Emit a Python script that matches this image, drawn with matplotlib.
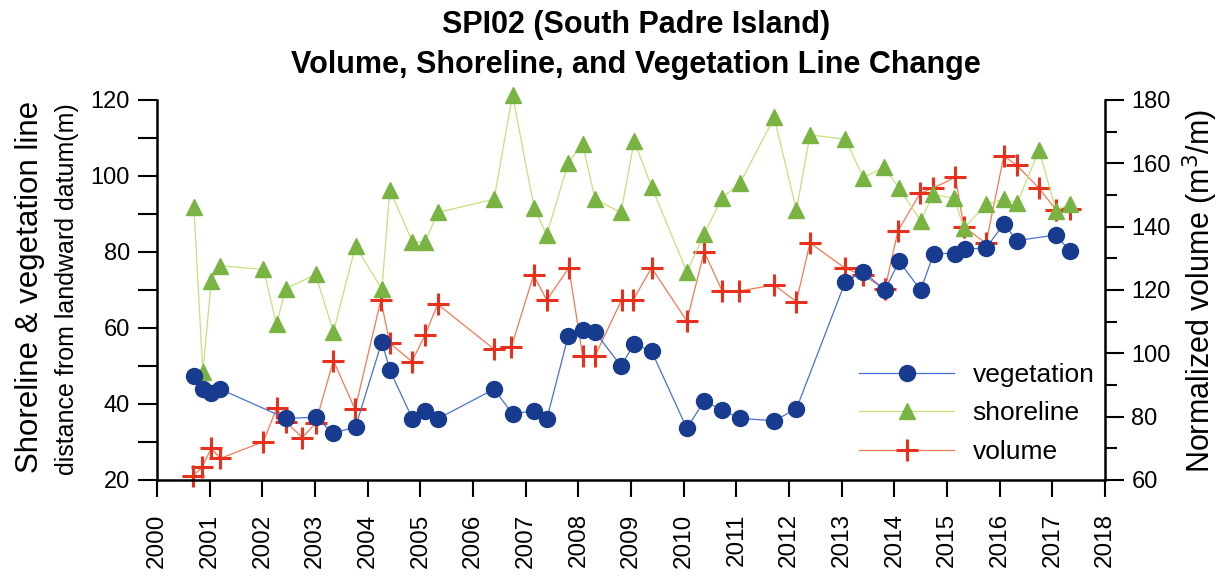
import matplotlib.pyplot as plt
from matplotlib.ticker import MultipleLocator

# vegetation line position (m), left axis
veg_year = [2000.70, 2000.87, 2001.03, 2001.20, 2002.45, 2003.01, 2003.35, 2003.77,
            2004.27, 2004.42, 2004.85, 2005.09, 2005.33, 2006.40, 2006.75, 2007.16,
            2007.40, 2007.81, 2008.08, 2008.32, 2008.81, 2009.06, 2009.39, 2010.06,
            2010.39, 2010.73, 2011.07, 2011.72, 2012.14, 2013.07, 2013.41, 2013.82,
            2014.09, 2014.50, 2014.75, 2015.16, 2015.34, 2015.74, 2016.08, 2016.33,
            2017.07, 2017.33]
veg_val = [47.4, 43.9, 42.9, 43.9, 36.2, 36.5, 32.3, 34.0,
           56.4, 48.9, 36.1, 38.2, 36.1, 43.9, 37.4, 38.2,
           36.0, 58.0, 59.5, 58.9, 50.0, 55.8, 53.9, 33.6,
           40.8, 38.4, 36.2, 35.6, 38.7, 72.2, 74.8, 70.0,
           77.5, 70.0, 79.6, 79.6, 80.8, 81.0, 87.4, 83.0,
           84.5, 80.3]

# shoreline position (m), left axis
shore_year = [2000.70, 2000.87, 2001.03, 2001.20, 2002.02, 2002.27, 2002.44, 2003.01,
              2003.35, 2003.77, 2004.27, 2004.42, 2004.85, 2005.09, 2005.33, 2006.40,
              2006.75, 2007.16, 2007.40, 2007.81, 2008.08, 2008.32, 2008.81, 2009.06,
              2009.39, 2010.06, 2010.39, 2010.73, 2011.07, 2011.72, 2012.14, 2012.40,
              2013.07, 2013.41, 2013.81, 2014.09, 2014.50, 2014.74, 2015.14, 2015.32,
              2015.74, 2016.08, 2016.33, 2016.75, 2017.07, 2017.33]
shore_val = [91.8, 48.3, 72.4, 76.4, 75.4, 61.0, 70.3, 74.1,
             59.0, 81.6, 70.2, 96.3, 82.6, 82.6, 90.4, 93.9,
             121.3, 91.7, 84.5, 103.5, 108.4, 93.9, 90.4, 109.2,
             97.2, 74.8, 84.7, 94.3, 98.1, 115.4, 91.1, 110.8,
             109.7, 99.6, 102.3, 96.8, 88.2, 95.2, 94.1, 86.2,
             92.5, 93.9, 92.8, 106.8, 90.9, 92.5]

# normalized volume (m3/m), right axis
vol_year = [2000.69, 2000.86, 2001.03, 2001.20, 2002.02, 2002.27, 2002.44, 2002.76,
            2003.01, 2003.35, 2003.76, 2004.25, 2004.42, 2004.84, 2005.09, 2005.33,
            2006.40, 2006.73, 2007.15, 2007.40, 2007.82, 2008.08, 2008.32, 2008.82,
            2009.04, 2009.39, 2010.06, 2010.39, 2010.73, 2011.06, 2011.72, 2012.14,
            2012.40, 2013.07, 2013.41, 2013.82, 2014.07, 2014.49, 2014.73, 2015.16,
            2015.32, 2015.74, 2016.08, 2016.32, 2016.75, 2017.07, 2017.33]
vol_val = [61.3, 64.2, 70.0, 66.8, 72.1, 82.6, 78.4, 73.4,
           77.9, 97.7, 82.3, 116.8, 103.2, 97.4, 105.8, 115.5,
           101.3, 102.1, 124.7, 116.8, 127.0, 99.3, 99.3, 116.8,
           116.8, 127.0, 110.2, 132.1, 119.7, 119.7, 121.6, 116.3,
           134.9, 126.8, 124.7, 120.2, 138.7, 150.5, 152.1, 155.6,
           140.0, 134.7, 162.3, 159.5, 152.1, 145.3, 145.5]

year_ticks = list(range(2000, 2019))

plt.rcParams['font.family'] = ['Liberation Sans', 'DejaVu Sans']

fig = plt.figure(figsize=(12.23, 5.78), dpi=100)
ax = fig.add_axes([0.1284, 0.1696, 0.7751, 0.6574])
ax2 = ax.twinx()

l1, = ax.plot(veg_year, veg_val, '-o', color='#4a6fd6', lw=0.9,
              mfc='#173c8f', mec='#173c8f', ms=11.5, zorder=3, clip_on=False)
l2, = ax.plot(shore_year, shore_val, '-^', color='#c5e07c', lw=0.9,
              mfc='#79b443', mec='#79b443', ms=11, zorder=2, clip_on=False)
l3, = ax2.plot(vol_year, vol_val, '-+', color='#f27a52', lw=0.9,
               mec='#e8301c', ms=16, mew=2.2, zorder=3, clip_on=False)

ax.set_xlim(2000, 2018)
ax.set_ylim(20, 120)
ax2.set_ylim(60, 180)
ax.set_xticks(year_ticks)
ax.set_xticklabels([str(y) for y in year_ticks], rotation=90, fontsize=17.5)
ax.yaxis.set_major_locator(MultipleLocator(20))
ax.yaxis.set_minor_locator(MultipleLocator(10))
ax2.yaxis.set_major_locator(MultipleLocator(20))
ax2.yaxis.set_minor_locator(MultipleLocator(10))

for a in (ax, ax2):
    a.spines['top'].set_visible(False)
    for s in ('left', 'right', 'bottom'):
        a.spines[s].set_linewidth(1.8)
ax.spines['right'].set_visible(False)
ax2.spines['left'].set_visible(False)
ax2.spines['bottom'].set_visible(False)

ax.tick_params(axis='x', direction='out', length=12, width=1.5, pad=12)
ax.tick_params(axis='y', which='both', direction='out', length=13.5, width=1.5, pad=6)
ax2.tick_params(axis='y', which='major', direction='out', length=14, width=1.5, pad=5)
ax2.tick_params(axis='y', which='minor', direction='out', length=8.5, width=1.5)
for lab in ax.get_yticklabels() + ax2.get_yticklabels():
    lab.set_fontsize(17)

fig.text(0.0245, 0.504, 'Shoreline & vegetation line', rotation=90,
         ha='center', va='center', fontsize=22.5)
fig.text(0.055, 0.500, 'distance from landward datum(m)', rotation=90,
         ha='center', va='center', fontsize=18)
fig.text(0.981, 0.497, 'Normalized volume (m$^3$/m)', rotation=90,
         ha='center', va='center', fontsize=22)

fig.suptitle('SPI02 (South Padre Island)\nVolume, Shoreline, and Vegetation Line Change',
             x=0.52, y=0.982, fontsize=22, fontweight='bold', linespacing=1.4)

ax.legend([l1, l2, l3], ['vegetation', 'shoreline', 'volume'],
          loc='lower right', bbox_to_anchor=(1.014, -0.02), frameon=False,
          fontsize=19, handlelength=3.6, labelspacing=0.55, handletextpad=0.7)
ax.set_zorder(ax2.get_zorder() + 1)
ax.patch.set_visible(False)

fig.savefig('out.png', dpi=100)
